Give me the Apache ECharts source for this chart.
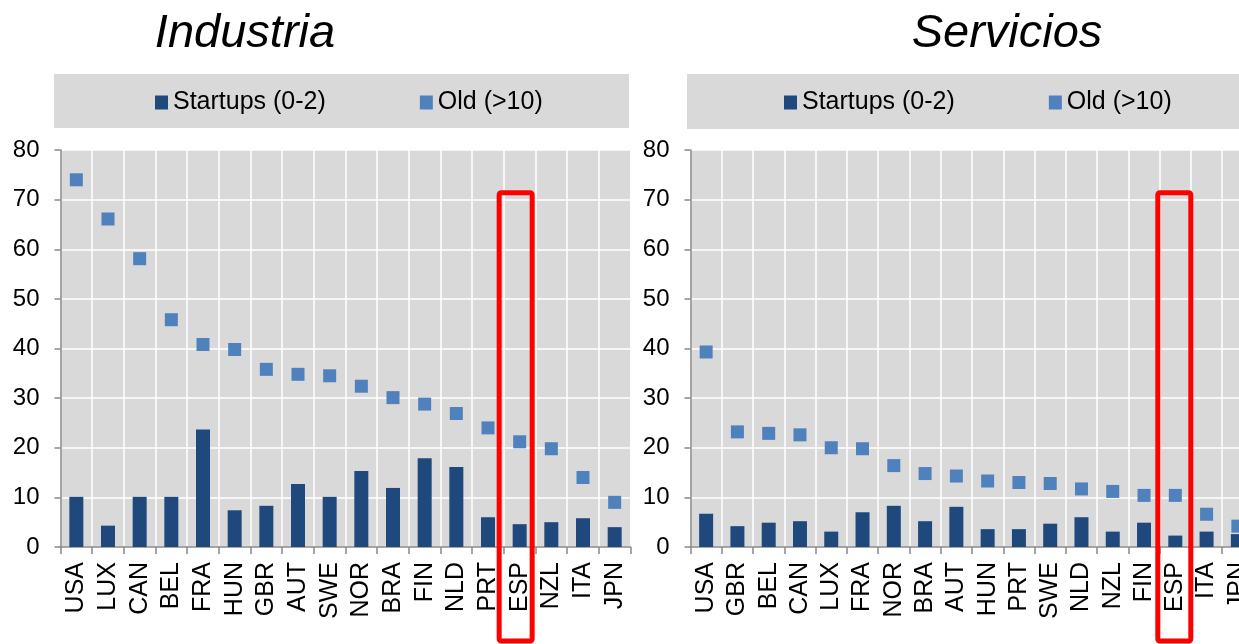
<!DOCTYPE html>
<html>
<head>
<meta charset="utf-8">
<script src="https://cdn.jsdelivr.net/npm/echarts@6/dist/echarts.min.js"></script>
<style>
html,body{margin:0;padding:0;background:#fff;overflow:hidden;width:1239px;height:644px;}
#c{width:1270px;height:644px;}
</style>
</head>
<body>
<div id="c"></div>
<script>
// ---- Data ----
const catsInd = ['USA','LUX','CAN','BEL','FRA','HUN','GBR','AUT','SWE','NOR','BRA','FIN','NLD','PRT','ESP','NZL','ITA','JPN'];
const startInd = [10.1, 4.3, 10.1, 10.1, 23.7, 7.4, 8.3, 12.7, 10.1, 15.3, 11.9, 17.9, 16.1, 6.0, 4.6, 5.0, 5.8, 4.0];
const oldInd   = [74.0, 66.1, 58.1, 45.8, 40.8, 39.8, 35.8, 34.8, 34.5, 32.4, 30.1, 28.8, 26.9, 24.0, 21.2, 19.8, 14.0, 9.0];

const catsSer = ['USA','GBR','BEL','CAN','LUX','FRA','NOR','BRA','AUT','HUN','PRT','SWE','NLD','NZL','FIN','ESP','ITA','JPN'];
const startSer = [6.7, 4.2, 4.9, 5.2, 3.1, 7.0, 8.3, 5.2, 8.1, 3.6, 3.6, 4.7, 6.0, 3.1, 4.9, 2.3, 3.1, 2.6];
const oldSer   = [39.3, 23.2, 22.9, 22.6, 20.0, 19.8, 16.4, 14.8, 14.3, 13.3, 13.0, 12.8, 11.7, 11.2, 10.4, 10.4, 6.6, 4.2];

const titles = ['Industria', 'Servicios'];
const seriesNames = ['Startups (0-2)', 'Old (>10)'];
const yMin = 0, yMax = 80, yStep = 10;
const highlight = 'ESP';
const highlightTop = 71.4;

// ---- Styles ----
const FONT = '"Liberation Sans", Arial, sans-serif';
const DARK = '#1f497d';
const LIGHT = '#4f81bd';
const PLOT_BG = '#d9d9d9';
const AXIS = '#898989';

const chart = echarts.init(document.getElementById('c'), null, {renderer: 'canvas'});

function xAxis(cats, idx) {
  return {
    type: 'category', gridIndex: idx, data: cats,
    boundaryGap: true,
    axisLine: {show: true, lineStyle: {color: AXIS, width: 1.5}},
    axisTick: {show: true, length: 7, lineStyle: {color: AXIS, width: 1.5}},
    splitLine: {show: true, lineStyle: {color: '#ffffff', width: 1.5}},
    axisLabel: {rotate: 90, fontSize: 25, color: '#000', fontFamily: FONT, margin: 15, interval: 0}
  };
}
function yAxis(idx, margin) {
  return {
    type: 'value', gridIndex: idx, min: yMin, max: yMax, interval: yStep,
    axisLine: {show: true, lineStyle: {color: AXIS, width: 1.5}},
    axisTick: {show: true, length: 6, lineStyle: {color: AXIS, width: 1.5}},
    splitLine: {show: true, lineStyle: {color: '#ffffff', width: 1.5}},
    axisLabel: {fontSize: 24, color: '#000', fontFamily: FONT, margin: margin}
  };
}
function legend(left) {
  return {
    left: left, top: 85, itemGap: 94, itemWidth: 13, itemHeight: 14,
    selectedMode: false,
    textStyle: {fontSize: 25, color: '#000', fontFamily: FONT, lineHeight: 25},
    data: [{name: seriesNames[0], icon: 'rect'}, {name: seriesNames[1], icon: 'rect'}]
  };
}

chart.setOption({
  animation: false,
  backgroundColor: '#ffffff',
  title: [
    {text: titles[0], left: 240, top: 5, textAlign: 'center',
     textStyle: {fontSize: 47, fontStyle: 'italic', fontWeight: 'normal', color: '#000', fontFamily: FONT}},
    {text: titles[1], left: 1002, top: 5, textAlign: 'center',
     textStyle: {fontSize: 47, fontStyle: 'italic', fontWeight: 'normal', color: '#000', fontFamily: FONT}}
  ],
  legend: [legend(150), legend(779)],
  grid: [
    {left: 60.5, top: 150, width: 570, height: 397, show: true, backgroundColor: PLOT_BG, borderWidth: 0},
    {left: 690.5, top: 150, width: 563, height: 397, show: true, backgroundColor: PLOT_BG, borderWidth: 0}
  ],
  xAxis: [xAxis(catsInd, 0), xAxis(catsSer, 1)],
  yAxis: [yAxis(0, 21), yAxis(1, 21)],
  series: [
    {name: seriesNames[0], type: 'bar', xAxisIndex: 0, yAxisIndex: 0, data: startInd, barWidth: 14, itemStyle: {color: DARK}},
    {name: seriesNames[1], type: 'scatter', xAxisIndex: 0, yAxisIndex: 0, data: oldInd, symbol: 'rect', symbolSize: 13, itemStyle: {color: LIGHT, opacity: 1}},
    {name: seriesNames[0], type: 'bar', xAxisIndex: 1, yAxisIndex: 1, data: startSer, barWidth: 14, itemStyle: {color: DARK}},
    {name: seriesNames[1], type: 'scatter', xAxisIndex: 1, yAxisIndex: 1, data: oldSer, symbol: 'rect', symbolSize: 13, itemStyle: {color: LIGHT, opacity: 1}}
  ]
});

// Legend boxes and highlight rectangles (positions from the axes)
const pL = chart.convertToPixel({xAxisIndex: 0, yAxisIndex: 0}, [highlight, highlightTop]);
const pR = chart.convertToPixel({xAxisIndex: 1, yAxisIndex: 1}, [highlight, highlightTop]);
const boxW = 33, boxBottom = 641;
chart.setOption({
  graphic: [
    {type: 'rect', id: 'lgL', z: 0, shape: {x: 54, y: 74, width: 575, height: 54}, style: {fill: PLOT_BG}},
    {type: 'rect', id: 'lgR', z: 0, shape: {x: 687, y: 74, width: 580, height: 55}, style: {fill: PLOT_BG}},
    {type: 'rect', id: 'hlL', z: 100, shape: {x: pL[0] - 4 - boxW / 2, y: pL[1], width: boxW, height: boxBottom - pL[1], r: 2},
     style: {fill: 'none', stroke: '#ff0000', lineWidth: 5}},
    {type: 'rect', id: 'hlR', z: 100, shape: {x: pR[0] - 1 - boxW / 2, y: pR[1], width: boxW, height: boxBottom - pR[1], r: 2},
     style: {fill: 'none', stroke: '#ff0000', lineWidth: 5}}
  ]
});
</script>
</body>
</html>
